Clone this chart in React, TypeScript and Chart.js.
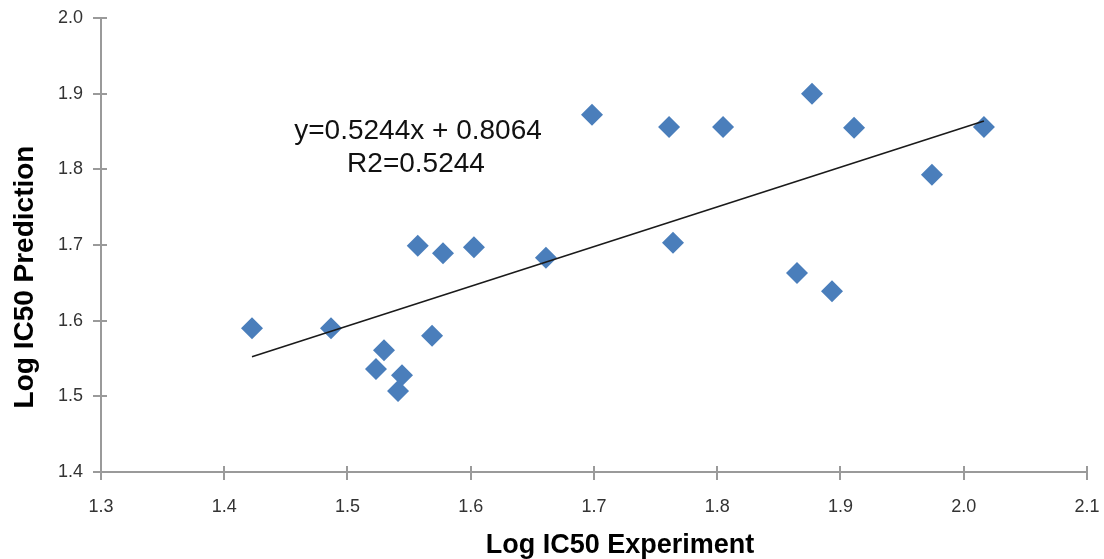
import React, { useEffect, useRef } from "react";
import { Chart, registerables } from "chart.js";

Chart.register(...registerables);

// ---- data ----
const experimentX = [
  1.4225, 1.4866, 1.5296, 1.5231, 1.5442, 1.541, 1.5686, 1.557, 1.5775, 1.6026,
  1.661, 1.6984, 1.7609, 1.8047, 1.7641, 1.8647, 1.8931, 1.8769, 1.911, 1.9742, 2.0164,
];
const predictionY = [
  1.59, 1.59, 1.561, 1.536, 1.528, 1.507, 1.58, 1.699, 1.689, 1.697,
  1.683, 1.872, 1.856, 1.856, 1.703, 1.663, 1.639, 1.9, 1.855, 1.793, 1.856,
];
const trendSlope = [0.5244];
const trendIntercept = [0.8064];
const equationLines = ["y=0.5244x + 0.8064", "R2=0.5244"];
const xTitle = "Log IC50 Experiment";
const yTitle = "Log IC50 Prediction";
const xTickRange = [1.3, 2.1];
const yTickRange = [1.4, 2.0];

const FONT = "'Liberation Sans', Arial, Helvetica, sans-serif";
const AXIS_COLOR = "#9a9a9a";

const crossTicks = {
  id: "crossTicks",
  afterDraw(chart: any) {
    const { ctx, scales, chartArea } = chart;
    const xs = scales.x;
    const ys = scales.y;
    ctx.save();
    ctx.strokeStyle = AXIS_COLOR;
    ctx.lineWidth = 2;
    xs.ticks.forEach((t: any) => {
      const px = Math.round(xs.getPixelForValue(t.value));
      ctx.beginPath();
      ctx.moveTo(px, chartArea.bottom - 6);
      ctx.lineTo(px, chartArea.bottom + 8);
      ctx.stroke();
    });
    ys.ticks.forEach((t: any) => {
      const py = Math.round(ys.getPixelForValue(t.value));
      ctx.beginPath();
      ctx.moveTo(chartArea.left - 8, py);
      ctx.lineTo(chartArea.left + 6, py);
      ctx.stroke();
    });

    // equation annotation
    ctx.fillStyle = "#111111";
    ctx.font = `28px ${FONT}`;
    ctx.textAlign = "center";
    ctx.textBaseline = "alphabetic";
    ctx.fillText(equationLines[0], 418, 139);
    ctx.fillText(equationLines[1], 416, 172);

    // axis titles
    ctx.fillStyle = "#000000";
    ctx.font = `bold 27px ${FONT}`;
    ctx.textAlign = "center";
    ctx.fillText(xTitle, 620, 553);
    ctx.font = `bold 28px ${FONT}`;
    ctx.save();
    ctx.translate(33, 277);
    ctx.rotate(-Math.PI / 2);
    ctx.fillText(yTitle, 0, 0);
    ctx.restore();
    ctx.restore();
  },
};

export default function App() {
  const ref = useRef<HTMLCanvasElement | null>(null);

  useEffect(() => {
    if (!ref.current) return;
    const points = experimentX.map((x, i) => ({ x, y: predictionY[i] }));
    const xMin = Math.min(...experimentX);
    const xMax = Math.max(...experimentX);
    const trend = [xMin, xMax].map((x) => ({ x, y: trendSlope[0] * x + trendIntercept[0] }));

    const chart = new Chart(ref.current, {
      type: "scatter",
      data: {
        datasets: [
          {
            type: "line" as any,
            data: trend,
            borderColor: "#1a1a1a",
            borderWidth: 1.6,
            pointRadius: 0,
            fill: false,
          },
          {
            data: points,
            pointStyle: "rectRot",
            pointRadius: 11,
            pointHoverRadius: 11,
            backgroundColor: "#4A7EBB",
            borderColor: "#4A7EBB",
            borderWidth: 0,
          },
        ],
      },
      options: {
        responsive: false,
        animation: false,
        layout: { padding: { top: 18, right: 17, bottom: 0, left: 0 } },
        plugins: { legend: { display: false }, tooltip: { enabled: false } },
        scales: {
          x: {
            type: "linear",
            min: xTickRange[0],
            max: xTickRange[1],
            ticks: {
              stepSize: 0.1,
              padding: 24,
              color: "#333333",
              font: { family: FONT, size: 18 },
              callback: (v: any) => Number(v).toFixed(1),
            },
            grid: { display: true, drawOnChartArea: false, drawTicks: false, color: AXIS_COLOR },
            border: { display: true, color: AXIS_COLOR, width: 2 },
            afterFit: (s: any) => {
              s.height = 87;
              s.paddingLeft = 0;
              s.paddingRight = 0;
            },
          },
          y: {
            type: "linear",
            min: yTickRange[0],
            max: yTickRange[1],
            ticks: {
              stepSize: 0.1,
              padding: 18,
              color: "#333333",
              font: { family: FONT, size: 18 },
              callback: (v: any) => Number(v).toFixed(1),
            },
            grid: { display: true, drawOnChartArea: false, drawTicks: false, color: AXIS_COLOR },
            border: { display: true, color: AXIS_COLOR, width: 2 },
            afterFit: (s: any) => {
              s.width = 101;
              s.paddingTop = 0;
              s.paddingBottom = 0;
            },
          },
        },
      },
      plugins: [crossTicks],
    });
    return () => chart.destroy();
  }, []);

  return (
    <div style={{ position: "absolute", left: 0, top: 0, width: 1104, height: 559, background: "#fff" }}>
      <canvas ref={ref} width={1104} height={559} style={{ display: "block" }} />
    </div>
  );
}
